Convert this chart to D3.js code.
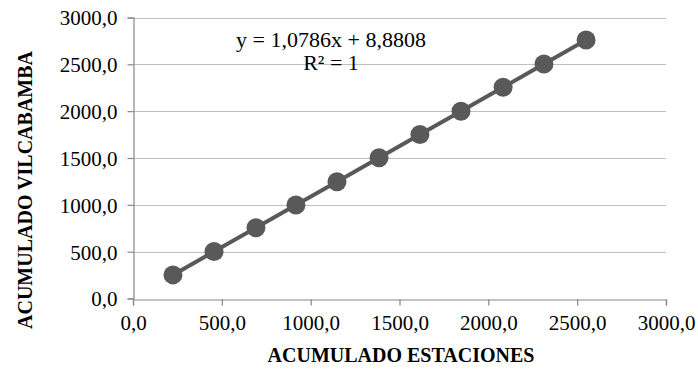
<!DOCTYPE html>
<html>
<head>
<meta charset="utf-8">
<script src="https://cdn.jsdelivr.net/npm/d3@7"></script>
<style>
  body { margin: 0; }
</style>
</head>
<body>
<svg id="chart" width="698" height="371"></svg>
<script>
// Accumulated precipitation: station average (x) vs. Vilcabamba (y)
const acumEstaciones = [225, 456, 692, 917, 1148, 1385, 1615, 1846, 2083, 2313, 2550];
const acumVilcabamba = [252, 501, 755, 998, 1247, 1503, 1751, 2000, 2255, 2504, 2759];
const xTicks = [0, 500, 1000, 1500, 2000, 2500, 3000];
const yTicks = [0, 500, 1000, 1500, 2000, 2500, 3000];
const equationText = "y = 1,0786x + 8,8808";
const r2Text = "R\u00B2 = 1";

const F = "Liberation Serif";
const svg = d3.select("#chart");
const fmt = v => d3.format(".1f")(v).replace(".", ",");

const x = d3.scaleLinear().domain([0, 3000]).range([133, 666]);
const y = d3.scaleLinear().domain([0, 3000]).range([298.5, 17.5]);

// horizontal gridlines
svg.append("g")
  .selectAll("line")
  .data(yTicks.filter(t => t > 0))
  .join("line")
  .attr("x1", x(0)).attr("x2", x(3000))
  .attr("y1", d => Math.round(y(d)) + 0.5).attr("y2", d => Math.round(y(d)) + 0.5)
  .attr("stroke", "#bfbfbf").attr("stroke-width", 1.2);

// axes
const xAxis = svg.append("g")
  .attr("transform", `translate(0,${Math.round(y(0)) + 0.5})`)
  .call(d3.axisBottom(x).tickValues(xTicks).tickFormat(fmt).tickSize(6).tickPadding(10));
const yAxis = svg.append("g")
  .attr("transform", `translate(${Math.round(x(0)) + 0.5},0)`)
  .call(d3.axisLeft(y).tickValues(yTicks).tickFormat(fmt).tickSize(6).tickPadding(10));

[xAxis, yAxis].forEach(g => {
  g.attr("font-family", F).attr("font-size", 21);
  g.select(".domain").attr("stroke", "#868686").attr("stroke-width", 1.2);
  g.selectAll(".tick line").attr("stroke", "#868686").attr("stroke-width", 1.2);
  g.selectAll(".tick text").attr("fill", "#000");
});
yAxis.selectAll(".tick text").attr("dy", "0.35em");

// series line and markers
const pts = acumEstaciones.map((v, i) => [v, acumVilcabamba[i]]);
svg.append("path")
  .datum(pts)
  .attr("fill", "none")
  .attr("stroke", "#595959")
  .attr("stroke-width", 4)
  .attr("d", d3.line().x(d => x(d[0])).y(d => y(d[1])));

svg.append("g")
  .selectAll("circle")
  .data(pts)
  .join("circle")
  .attr("cx", d => x(d[0]))
  .attr("cy", d => y(d[1]))
  .attr("r", 9.5)
  .attr("fill", "#595959");

// trendline equation
svg.append("text")
  .attr("x", 331).attr("y", 47)
  .attr("text-anchor", "middle")
  .attr("font-family", F).attr("font-size", 22)
  .text(equationText);
svg.append("text")
  .attr("x", 331).attr("y", 70)
  .attr("text-anchor", "middle")
  .attr("font-family", F).attr("font-size", 22)
  .text(r2Text);

// axis titles
svg.append("text")
  .attr("x", 401).attr("y", 362)
  .attr("text-anchor", "middle")
  .attr("font-family", F).attr("font-size", 20).attr("font-weight", "bold")
  .text("ACUMULADO ESTACIONES");

svg.append("text")
  .attr("transform", "translate(32,190) rotate(-90)")
  .attr("text-anchor", "middle")
  .attr("font-family", F).attr("font-size", 20).attr("font-weight", "bold")
  .text("ACUMULADO VILCABAMBA");
</script>
</body>
</html>
